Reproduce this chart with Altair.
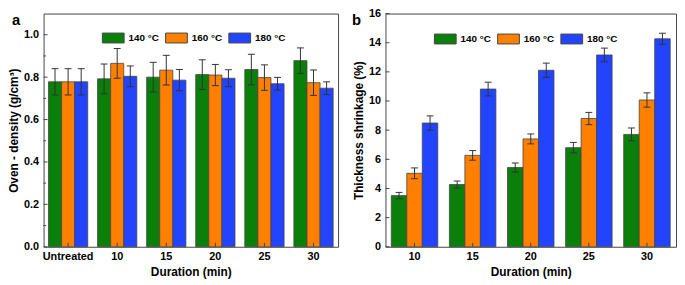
import altair as alt
import pandas as pd

FONT = "Liberation Sans"

# ---------------- data ----------------
temperatures = ["140 °C", "160 °C", "180 °C"]
bar_colors = ["#0a7f0a", "#ff8000", "#2244ff"]

durations_a = ["Untreated", "10", "15", "20", "25", "30"]
density_140 = [0.778, 0.792, 0.800, 0.812, 0.836, 0.878]
density_160 = [0.778, 0.865, 0.833, 0.810, 0.798, 0.774]
density_180 = [0.778, 0.804, 0.786, 0.795, 0.769, 0.748]
density_err_140 = [0.062, 0.070, 0.070, 0.070, 0.072, 0.060]
density_err_160 = [0.062, 0.070, 0.070, 0.050, 0.060, 0.060]
density_err_180 = [0.062, 0.049, 0.050, 0.040, 0.030, 0.030]

durations_b = ["10", "15", "20", "25", "30"]
shrink_140 = [3.51, 4.27, 5.44, 6.80, 7.71]
shrink_160 = [5.04, 6.27, 7.40, 8.80, 10.07]
shrink_180 = [8.49, 10.82, 12.11, 13.16, 14.27]
shrink_err_140 = [0.22, 0.24, 0.31, 0.36, 0.44]
shrink_err_160 = [0.37, 0.33, 0.34, 0.42, 0.49]
shrink_err_180 = [0.49, 0.47, 0.49, 0.47, 0.38]

yticks_a = [0.0, 0.2, 0.4, 0.6, 0.8, 1.0]
yminor_a = [0.1, 0.3, 0.5, 0.7, 0.9]
yticks_b = [0, 2, 4, 6, 8, 10, 12, 14, 16]
yminor_b = []
panel_labels = ["a", "b"]

SYMBOL = "M-1,-0.4545H1V0.4545H-1Z"


def long_df(durs, series, errs):
    rows = []
    for t, vals, es in zip(temperatures, series, errs):
        for d, v, e in zip(durs, vals, es):
            rows.append({"dur": d, "temp": t, "val": v, "lo": v - e, "hi": v + e})
    return pd.DataFrame(rows)


def panel(df, durs, ydomain, ytitle, yticks, yminor, yformat, label,
          leg_x, leg_y, width, height, lab_x, lab_y):
    yscale = alt.Scale(domain=ydomain, nice=False, zero=True)
    yaxis = alt.Axis(title=ytitle, values=yticks, format=yformat,
                     labelPadding=5, titlePadding=3, labelOverlap=False)
    xscale = alt.Scale(paddingInner=0.2, paddingOuter=0.1)
    xaxis = alt.Axis(title="Duration (min)", labelAngle=0,
                     labelPadding=4, titlePadding=5)
    xe = alt.X("dur:N", sort=durs, scale=xscale, axis=xaxis)
    xoff = alt.XOffset("temp:N", sort=temperatures,
                       scale=alt.Scale(paddingInner=0, paddingOuter=0))
    bars = alt.Chart(df).mark_bar(stroke="#444", strokeWidth=0.8).encode(
        x=xe,
        xOffset=xoff,
        y=alt.Y("val:Q", scale=yscale, axis=yaxis),
        color=alt.Color("temp:N", sort=temperatures,
                        scale=alt.Scale(domain=temperatures, range=bar_colors),
                        legend=alt.Legend(
                            title=None, orient="none", legendX=leg_x,
                            legendY=leg_y, direction="horizontal",
                            symbolType=SYMBOL, symbolSize=484,
                            symbolStrokeColor="#444", symbolStrokeWidth=1,
                            symbolOpacity=1, labelFont=FONT,
                            labelFontWeight="bold", labelFontSize=10,
                            labelColor="black", labelOffset=4,
                            columnPadding=4)),
    )
    err = alt.Chart(df).mark_rule(color="#333", strokeWidth=1).encode(
        x=xe, xOffset=xoff, y=alt.Y("lo:Q", scale=yscale, axis=yaxis),
        y2="hi:Q")
    cap_lo = alt.Chart(df).mark_tick(orient="horizontal", size=7, thickness=1,
                                     color="#333", opacity=1).encode(
        x=xe, xOffset=xoff, y=alt.Y("lo:Q", scale=yscale, axis=yaxis))
    cap_hi = alt.Chart(df).mark_tick(orient="horizontal", size=7, thickness=1,
                                     color="#333", opacity=1).encode(
        x=xe, xOffset=xoff, y=alt.Y("hi:Q", scale=yscale, axis=yaxis))
    ymaj = alt.Chart(pd.DataFrame({"v": yticks})).mark_rule(
        color="#444", strokeWidth=1).encode(
        y=alt.Y("v:Q", scale=yscale, axis=yaxis), x=alt.value(0),
        x2=alt.value(4))
    layers = [bars, err, cap_lo, cap_hi, ymaj]
    if yminor:
        ymin = alt.Chart(pd.DataFrame({"v": yminor})).mark_rule(
            color="#444", strokeWidth=1).encode(
            y=alt.Y("v:Q", scale=yscale, axis=yaxis), x=alt.value(0),
            x2=alt.value(2.5))
        layers.append(ymin)
    xt = alt.Chart(pd.DataFrame({"dur": durs})).mark_rule(
        color="#444", strokeWidth=1).encode(
        x=xe, y=alt.value(height), y2=alt.value(height - 4))
    layers.append(xt)
    lab = alt.Chart(pd.DataFrame({"t": [label]})).mark_text(
        font=FONT, fontSize=15, fontWeight="bold", align="left",
        baseline="alphabetic", color="black").encode(
        text="t:N", x=alt.value(lab_x), y=alt.value(lab_y))
    layers.append(lab)
    return alt.layer(*layers).properties(width=width, height=height)


H = 236
df_a = long_df(durations_a, [density_140, density_160, density_180],
               [density_err_140, density_err_160, density_err_180])
df_b = long_df(durations_b, [shrink_140, shrink_160, shrink_180],
               [shrink_err_140, shrink_err_160, shrink_err_180])

pa = panel(df_a, durations_a, [0, 1.1], "Oven - density (g/cm³)", yticks_a,
           yminor_a, ".1f", panel_labels[0], 59, 13, 298, H, -32, 12)
pb = panel(df_b, durations_b, [0, 16], "Thickness shrinkage (%)", yticks_b,
           yminor_b, "d", panel_labels[1], 49, 14, 294, H, -34, 12)

chart = alt.hconcat(pa, pb, spacing=12).resolve_scale(
    color="independent", x="independent", y="independent",
    xOffset="independent").configure_view(
    stroke="#444", strokeWidth=1).configure_axis(
    labelFont=FONT, titleFont=FONT, labelFontWeight="bold",
    titleFontWeight="bold", labelFontSize=11, titleFontSize=12,
    labelColor="black", titleColor="black", domain=False, grid=False,
    tickSize=0).properties(
    padding={"left": -1, "top": -3, "right": 0, "bottom": 0},
    background="white")

chart.save("out.html", embed_options={"renderer": "svg", "actions": False})
